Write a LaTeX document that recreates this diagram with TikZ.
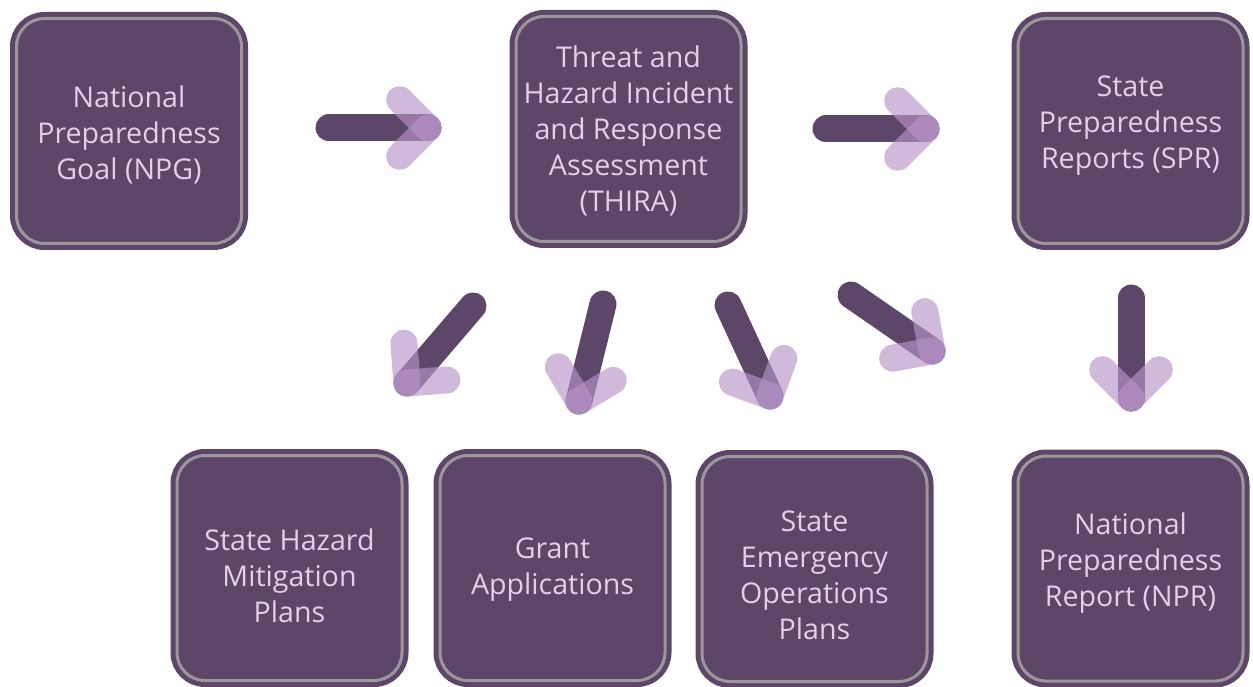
\documentclass[tikz,border=0pt]{standalone}
\usepackage{fontspec}
\setmainfont{Open Sans}
\usetikzlibrary{calc}
\definecolor{plum}{HTML}{5E4668}
\definecolor{rim}{HTML}{9B979C}
\definecolor{lilac}{HTML}{E1D0EB}
\definecolor{mauve}{HTML}{B893C9}

\begin{document}
\begin{tikzpicture}[x=1pt,y=-1pt, every node/.style={font=\fontsize{28.6}{36}\selectfont, text=lilac, align=center},
    box/.style={rectangle, rounded corners=28pt, minimum width=225pt, minimum height=225pt, inner sep=0pt,
        fill=plum, draw=rim, line width=3pt, preaction={draw=plum, line width=13pt}},
    shaft/.style={draw=plum, line width=27pt, line cap=round},
    arm/.style={draw=mauve, draw opacity=0.65, line width=27pt, line cap=round}]
                \useasboundingbox (0,0) rectangle (1253,687);

                \node[box, label={[yshift=-4pt]center:National\\Preparedness\\Goal (NPG)}] (npg) at (129,131) {};
                \node[box, label={[yshift=-2pt]center:Threat and\\Hazard Incident\\and Response\\Assessment\\(THIRA)}] (thira) at (628.5,129) {};
                \node[box, label={[yshift=5pt]center:State\\Preparedness\\Reports (SPR)}] (spr) at (1130.5,131) {};

                \node[box, label={[yshift=-8pt]center:State Hazard\\Mitigation\\Plans}] (shmp) at (289.5,568) {};
                \node[box, label={[yshift=-2pt]center:Grant\\Applications}] (grant) at (552.5,568) {};
                \node[box, label={[yshift=-6pt]center:State\\Emergency\\Operations\\Plans}] (seop) at (814.5,569) {};
                \node[box, label={[yshift=5pt]center:National\\Preparedness\\Report (NPR)}] (npr) at (1130.5,568.5) {};

                \coordinate (t1) at (329,128);  \coordinate (h1) at (428,128);
                \coordinate (t2) at (826,129);  \coordinate (h2) at (926,129);
                \coordinate (t3) at (473,306);  \coordinate (h3) at (407,383);
                \coordinate (t4) at (603,304);  \coordinate (h4) at (579,401);
                \coordinate (t5) at (728,305);  \coordinate (h5) at (770,396);
                \coordinate (t6) at (851,295);  \coordinate (h6) at (932,351);
                \coordinate (t7) at (1131,298); \coordinate (h7) at (1131,398);

                \foreach \s/\h in {t1/h1,t2/h2,t3/h3,t4/h4,t5/h5,t6/h6,t7/h7}{
                    \draw[shaft] (\s) -- (\h);
                    \draw[arm] (\h) -- ($(\h)!40pt!45:(\s)$);
                    \draw[arm] (\h) -- ($(\h)!40pt!-45:(\s)$);
                }
            \end{tikzpicture}
\end{document}
